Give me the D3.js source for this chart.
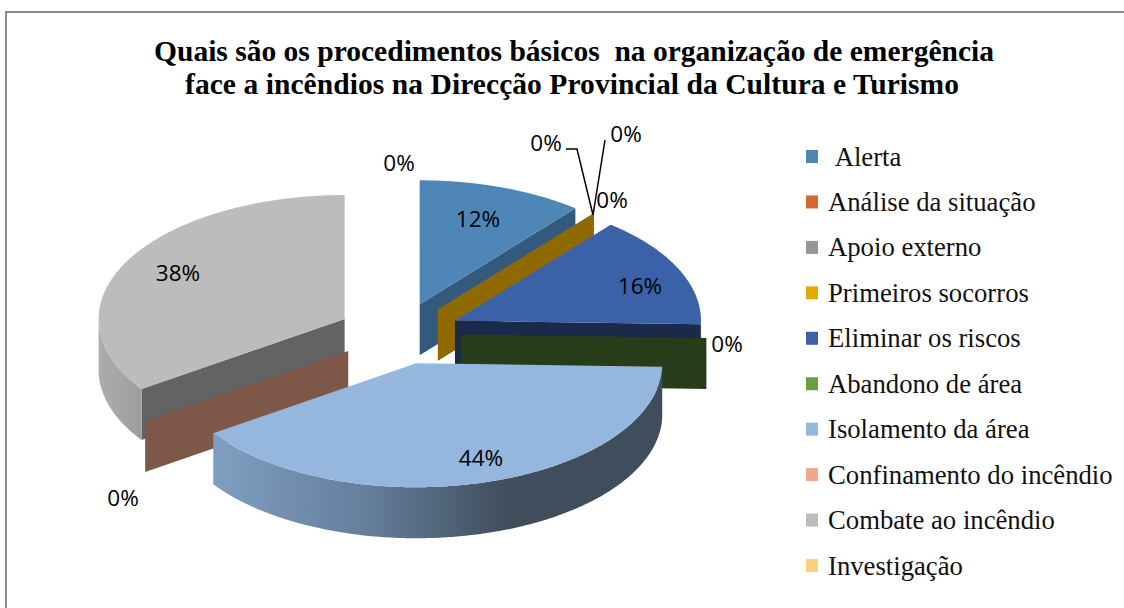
<!DOCTYPE html>
<html><head><meta charset="utf-8">
<script src="https://cdn.jsdelivr.net/npm/d3@7"></script>
<style>html,body{margin:0;padding:0;background:#fff;overflow:hidden}svg{display:block}</style>
</head><body><svg id="c" width="1124" height="608"></svg>
<script>
const categories = ["\u00A0Alerta","Análise da situação","Apoio externo","Primeiros socorros","Eliminar os riscos","Abandono de área","Isolamento da área","Confinamento do incêndio","Combate ao incêndio","Investigação"];
const values = [12,0,0,0,16,0,44,0,38,0];
const labels = ["12%","0%","0%","0%","16%","0%","44%","0%","38%","0%"];
const titleLines = ["Quais são os procedimentos básicos  na organização de emergência","face a incêndios na Direcção Provincial da Cultura e Turismo"];
const colors = ["#4f86b8","#d2692d","#969696","#e3ab00","#3b62a8","#66a040","#95b6dd","#f2a68a","#bcbcbc","#fcd07e"];
const wallColors = ["#335a7d","#8a4a20","#666666","#8f6a00","#1a2a4a","#273c18","#55708f","#7d5748","#636363","#a0844f"];
const drawOrder = [8,9,0,1,2,3,4,5,7,6];
const labelPos = [[478,219],[546,143],[626,134],[612,200],[640,286],[727,344],[481,458],[123,498],[178,273],[399,163]];

const svg = d3.select("#c");
const cx=399,cy=333.5,rx=246,ry=124,depth=51,explode=0.25;
svg.append("rect").attr("x",6).attr("y",12).attr("width",1300).attr("height",800).attr("fill","#fff").attr("stroke","#8c8c8c").attr("stroke-width",2);

const defs = svg.append("defs");
const g1 = defs.append("linearGradient").attr("id","isoSide").attr("gradientUnits","userSpaceOnUse").attr("x1",213).attr("x2",663).attr("y1",0).attr("y2",0);
[[0,"#7f9fc2"],[0.35,"#647d9b"],[0.65,"#3f4e5d"],[1,"#3f4e5d"]].forEach(s=>g1.append("stop").attr("offset",s[0]).attr("stop-color",s[1]));
const g2 = defs.append("linearGradient").attr("id","comSide").attr("gradientUnits","userSpaceOnUse").attr("x1",98).attr("x2",141).attr("y1",0).attr("y2",0);
[[0,"#adadad"],[1,"#9e9e9e"]].forEach(s=>g2.append("stop").attr("offset",s[0]).attr("stop-color",s[1]));
const sideFill = {6:"url(#isoSide)",8:"url(#comSide)"};

const arcs = d3.pie().sort(null).value(d=>d).startAngle(0).endAngle(2*Math.PI)(values);
const X = d3.scaleLinear().domain([-1,1]).range([-rx,rx]);
const Y = d3.scaleLinear().domain([-1,1]).range([-ry,ry]);
const pt=(a,r,o)=>[o[0]+X(r*Math.sin(a)),o[1]-Y(r*Math.cos(a))];
const line=d3.line().curve(d3.curveLinear);
const sample=(a0,a1)=>{const n=Math.max(2,Math.ceil((a1-a0)/0.01));return d3.range(n+1).map(i=>a0+(a1-a0)*i/n);};

const pie = svg.append("g");
drawOrder.forEach(i=>{
  const s=arcs[i],mid=(s.startAngle+s.endAngle)/2;
  const o=[cx+X(explode*Math.sin(mid)),cy-Y(explode*Math.cos(mid))];
  const down=p=>[p[0],p[1]+depth];
  const wall=a=>{const A=pt(a,0,o),B=pt(a,1,o);
    pie.append("path").attr("d",line([A,B,down(B),down(A)])+"Z").attr("fill",wallColors[i]);};
  if(s.startAngle>Math.PI&&s.startAngle<2*Math.PI) wall(s.startAngle);
  if(s.endAngle>0&&s.endAngle<Math.PI) wall(s.endAngle);
  const lo=Math.max(s.startAngle,Math.PI/2),hi=Math.min(s.endAngle,3*Math.PI/2);
  if(hi>lo){
    const rim=sample(lo,hi).map(a=>pt(a,1,o));
    pie.append("path").attr("d",line(rim.concat(rim.slice().reverse().map(down)))+"Z").attr("fill",sideFill[i]||wallColors[i]);
  }
  if(s.endAngle>s.startAngle){
    const top=[pt(0,0,o)].concat(sample(s.startAngle,s.endAngle).map(a=>pt(a,1,o)));
    pie.append("path").attr("d",line(top)+"Z").attr("fill",colors[i]);
  }
});

const leaders=[[[566,149],[577,149],[593,215]],[[605,140],[593,215]]];
leaders.forEach(l=>svg.append("path").attr("d",line(l)).attr("fill","none").attr("stroke","#000").attr("stroke-width",1.5));

labels.forEach((t,i)=>svg.append("text").attr("x",labelPos[i][0]).attr("y",labelPos[i][1]+8).attr("text-anchor","middle")
  .attr("font-family","'Open Sans','Noto Sans',sans-serif").attr("font-size",22.5).attr("fill","#000").text(t));

const titleX=[154,185], titleLen=[840,774], titleY=[61,94];
titleLines.forEach((t,i)=>svg.append("text").attr("x",titleX[i]).attr("y",titleY[i]).attr("textLength",titleLen[i]).attr("lengthAdjust","spacing").style("white-space","pre")
  .attr("font-family","'Liberation Serif',serif").attr("font-weight","bold").attr("font-size",29.5).attr("fill","#000").text(t));

const legY=d3.scalePoint().domain(d3.range(categories.length)).range([158,567]);
categories.forEach((c,i)=>{
  svg.append("rect").attr("x",806).attr("y",legY(i)-8).attr("width",12).attr("height",13).attr("fill",colors[i]);
  svg.append("text").attr("x",828).attr("y",legY(i)+7.5).attr("font-family","'Liberation Serif',serif").attr("font-size",26.7).attr("fill","#111").text(c);
});
</script></body></html>
